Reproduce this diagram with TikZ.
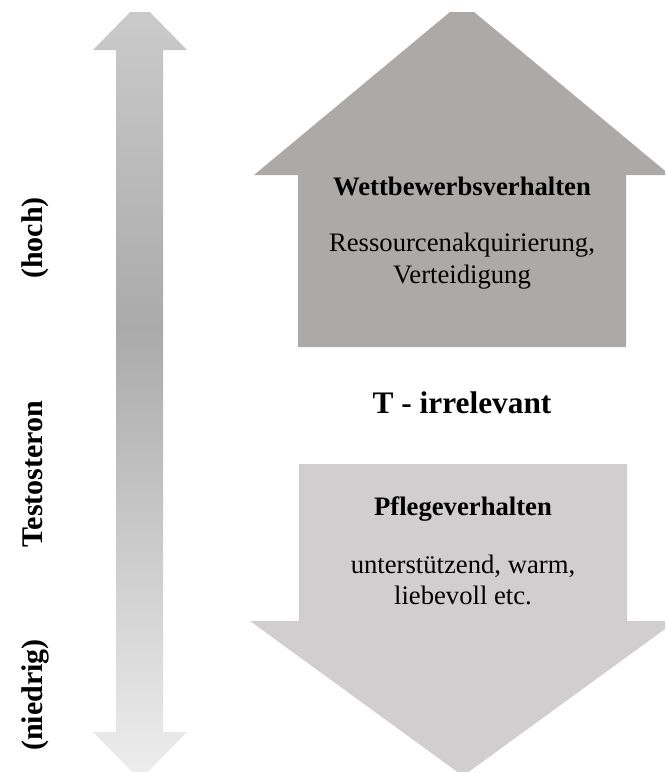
\documentclass[tikz,border=0pt]{standalone}
\usepackage{fontspec}
\setmainfont{Liberation Serif}
\definecolor{upgray}{HTML}{ACA9A9}
\definecolor{downgray}{HTML}{D0CECF}
\definecolor{gtop}{HTML}{CBCBCB}
\definecolor{gmid}{HTML}{AAAAAA}
\definecolor{gbot}{HTML}{EEEEEE}
\pgfdeclareverticalshading{testoshade}{100bp}{color(0bp)=(gbot); color(25bp)=(gbot); color(54bp)=(gmid); color(75bp)=(gtop); color(100bp)=(gtop)}
\begin{document}
\begin{tikzpicture}[x=0.75pt,y=-0.75pt,
  boxtitle/.style={inner sep=0pt, anchor=base, font=\fontsize{20}{24}\selectfont\bfseries},
  boxtext/.style={inner sep=0pt, anchor=base, font=\fontsize{20}{24}\selectfont},
  midtext/.style={inner sep=0pt, anchor=base, font=\fontsize{23.5}{28}\selectfont\bfseries},
  sidetext/.style={inner sep=0pt, anchor=base, rotate=90, font=\fontsize{22.5}{26}\selectfont\bfseries}]
\useasboundingbox (0,0) rectangle (665,772);
\begin{scope}
\clip (0,12) rectangle (665,772);
% left double arrow (gradient)
\shade[shading=testoshade] (140,2) -- (187,50) -- (163,50) -- (163,732) -- (187,732) -- (140,780) -- (93,732) -- (116,732) -- (116,50) -- (93,50) -- cycle;
% upper arrow
\fill[upgray] (462,2) -- (670,175) -- (626,175) -- (626,347) -- (298,347) -- (298,175) -- (254,175) -- cycle;
% lower arrow
\fill[downgray] (299,464) -- (627,464) -- (627,621) -- (676,621) -- (463,776) -- (250,621) -- (299,621) -- cycle;
\end{scope}
\node[boxtitle] (wtitle) at (462,195) {Wettbewerbsverhalten};
\node[boxtext] (wl1) at (462,251) {Ressourcenakquirierung,};
\node[boxtext] (wl2) at (462,283) {Verteidigung};
\node[midtext] (tirr) at (462,413) {T - irrelevant};
\node[boxtitle] (ptitle) at (463,515) {Pflegeverhalten};
\node[boxtext] (pl1) at (463,573) {unterstützend, warm,};
\node[boxtext] (pl2) at (463,604) {liebevoll etc.};
\node[sidetext] (hoch) at (42,238) {(hoch)};
\node[sidetext] (testo) at (42,474) {Testosteron};
\node[sidetext] (niedrig) at (42,695) {(niedrig)};
\end{tikzpicture}
\end{document}
